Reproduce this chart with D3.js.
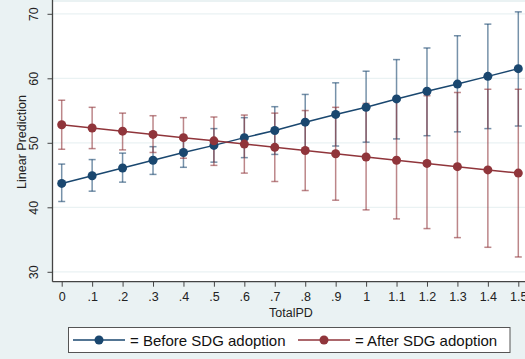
<!DOCTYPE html>
<html lang="en">
<head>
    <meta charset="UTF-8">
    <title>Linear Prediction by TotalPD</title>
    <script src="https://cdnjs.cloudflare.com/ajax/libs/d3/7.8.5/d3.min.js"></script>
    <style>
        body { margin: 0; background: #eaf2f3; }
        svg { display: block; font-family: "Liberation Sans", Arial, sans-serif; }
    </style>
</head>
<body>
    <div id="chart"></div>
    <script>
    // x positions (TotalPD)
    const totalPD = [0, .1, .2, .3, .4, .5, .6, .7, .8, .9, 1, 1.1, 1.2, 1.3, 1.4, 1.5];
    const xTickLabels = ["0", ".1", ".2", ".3", ".4", ".5", ".6", ".7", ".8", ".9", "1", "1.1", "1.2", "1.3", "1.4", "1.5"];
    const yTicks = [30, 40, 50, 60, 70];

    // Before SDG adoption: prediction and 95% CI
    const before   = [43.7, 44.9, 46.1, 47.3, 48.5, 49.6, 50.8, 51.9, 53.2, 54.4, 55.5, 56.8, 58.0, 59.1, 60.3, 61.5];
    const beforeLo = [40.9, 42.5, 43.9, 45.1, 46.2, 47.0, 47.7, 48.2, 48.9, 49.5, 50.1, 50.6, 51.1, 51.7, 52.2, 52.6];
    const beforeHi = [46.7, 47.4, 48.4, 49.4, 50.6, 52.2, 53.9, 55.6, 57.5, 59.3, 61.1, 62.9, 64.7, 66.6, 68.4, 70.3];

    // After SDG adoption
    const after   = [52.8, 52.3, 51.8, 51.3, 50.8, 50.3, 49.8, 49.3, 48.8, 48.3, 47.8, 47.3, 46.8, 46.3, 45.8, 45.3];
    const afterLo = [49.0, 49.1, 48.9, 48.5, 47.6, 46.5, 45.3, 44.0, 42.6, 41.1, 39.6, 38.2, 36.7, 35.3, 33.8, 32.3];
    const afterHi = [56.6, 55.5, 54.6, 54.2, 53.9, 54.0, 54.3, 54.6, 55.0, 55.5, 56.1, 56.8, 57.3, 57.8, 58.3, 58.3];

    const seriesNames = ["= Before SDG adoption", "= After SDG adoption"];
    const colors = ["#1a476f", "#90353b"];

    const W = 525, H = 359;
    const svg = d3.select("#chart").append("svg")
        .attr("width", W).attr("height", H);

    const x = d3.scaleLinear().domain([0, 1.5]).range([61.7, 518.3]);
    const y = d3.scaleLinear().domain([30, 70]).range([271.8, 13.8]);

    const plotLeft = 52.5, plotBottom = 281.7;

    // plot region
    svg.append("rect")
        .attr("x", plotLeft).attr("y", 2)
        .attr("width", W - plotLeft).attr("height", plotBottom - 2)
        .attr("fill", "#fff");

    // gridlines
    svg.append("g").selectAll("line")
        .data(yTicks)
        .join("line")
        .attr("x1", plotLeft).attr("x2", W)
        .attr("y1", d => y(d)).attr("y2", d => y(d))
        .attr("stroke", "#eaf2f3").attr("stroke-width", 1.2);

    // axes
    const yAxis = svg.append("g")
        .attr("transform", `translate(${plotLeft},0)`)
        .call(d3.axisLeft(y).tickValues(yTicks).tickSize(5).tickPadding(4));
    yAxis.select(".domain").attr("d", `M0,0V${plotBottom}`).attr("stroke", "#444").attr("stroke-width", 1.3);
    yAxis.selectAll(".tick line").attr("stroke", "#444");
    yAxis.selectAll(".tick text")
        .attr("font-size", 12.5).attr("fill", "#222")
        .attr("transform", "rotate(-90)")
        .attr("x", 0).attr("y", -14.5)
        .attr("dy", 0)
        .attr("text-anchor", "middle");

    const xAxis = svg.append("g")
        .attr("transform", `translate(0,${plotBottom})`)
        .call(d3.axisBottom(x).tickValues(totalPD)
            .tickFormat((d, i) => xTickLabels[i]).tickSize(5).tickPadding(5));
    xAxis.select(".domain").attr("d", `M${plotLeft},0H${W}`).attr("stroke", "#444").attr("stroke-width", 1.3);
    xAxis.selectAll(".tick line").attr("stroke", "#444");
    xAxis.selectAll(".tick text").attr("font-size", 12.5).attr("fill", "#222");

    svg.append("text")
        .attr("x", 291).attr("y", 317)
        .attr("text-anchor", "middle")
        .attr("font-size", 12.5).attr("fill", "#222")
        .text("TotalPD");

    svg.append("text")
        .attr("transform", "translate(26,142) rotate(-90)")
        .attr("text-anchor", "middle")
        .attr("font-size", 12.5).attr("fill", "#222")
        .text("Linear Prediction");

    // series
    const series = [
        {est: before, lo: beforeLo, hi: beforeHi, color: colors[0]},
        {est: after, lo: afterLo, hi: afterHi, color: colors[1]}
    ];

    const capW = 3.5;
    series.forEach(s => {
        const g = svg.append("g")
            .attr("stroke", s.color).attr("stroke-opacity", 0.6).attr("stroke-width", 1.5);
        totalPD.forEach((t, i) => {
            const cx = x(t);
            g.append("line").attr("x1", cx).attr("x2", cx)
                .attr("y1", y(s.lo[i])).attr("y2", y(s.hi[i]));
            g.append("line").attr("x1", cx - capW).attr("x2", cx + capW)
                .attr("y1", y(s.lo[i])).attr("y2", y(s.lo[i]));
            g.append("line").attr("x1", cx - capW).attr("x2", cx + capW)
                .attr("y1", y(s.hi[i])).attr("y2", y(s.hi[i]));
        });
    });

    const line = d3.line().x((d, i) => x(totalPD[i])).y(d => y(d));
    series.forEach(s => {
        svg.append("path")
            .attr("d", line(s.est))
            .attr("fill", "none")
            .attr("stroke", s.color).attr("stroke-width", 1.5);
        svg.append("g").selectAll("circle")
            .data(s.est)
            .join("circle")
            .attr("cx", (d, i) => x(totalPD[i]))
            .attr("cy", d => y(d))
            .attr("r", 4.5)
            .attr("fill", s.color);
    });

    // legend
    const legend = svg.append("g");
    legend.append("rect")
        .attr("x", 68.5).attr("y", 327.5)
        .attr("width", 441.5).attr("height", 25)
        .attr("fill", "#fff").attr("stroke", "#555").attr("stroke-width", 1);

    const legX = [73, 298];
    seriesNames.forEach((name, i) => {
        const lx = legX[i];
        legend.append("line")
            .attr("x1", lx).attr("x2", lx + 52)
            .attr("y1", 340).attr("y2", 340)
            .attr("stroke", colors[i]).attr("stroke-width", 1.5);
        legend.append("circle")
            .attr("cx", lx + 26).attr("cy", 340).attr("r", 4.5)
            .attr("fill", colors[i]);
        legend.append("text")
            .attr("x", lx + 57).attr("y", 345.5)
            .attr("font-size", 15).attr("fill", "#111")
            .text(name);
    });
    </script>
</body>
</html>
